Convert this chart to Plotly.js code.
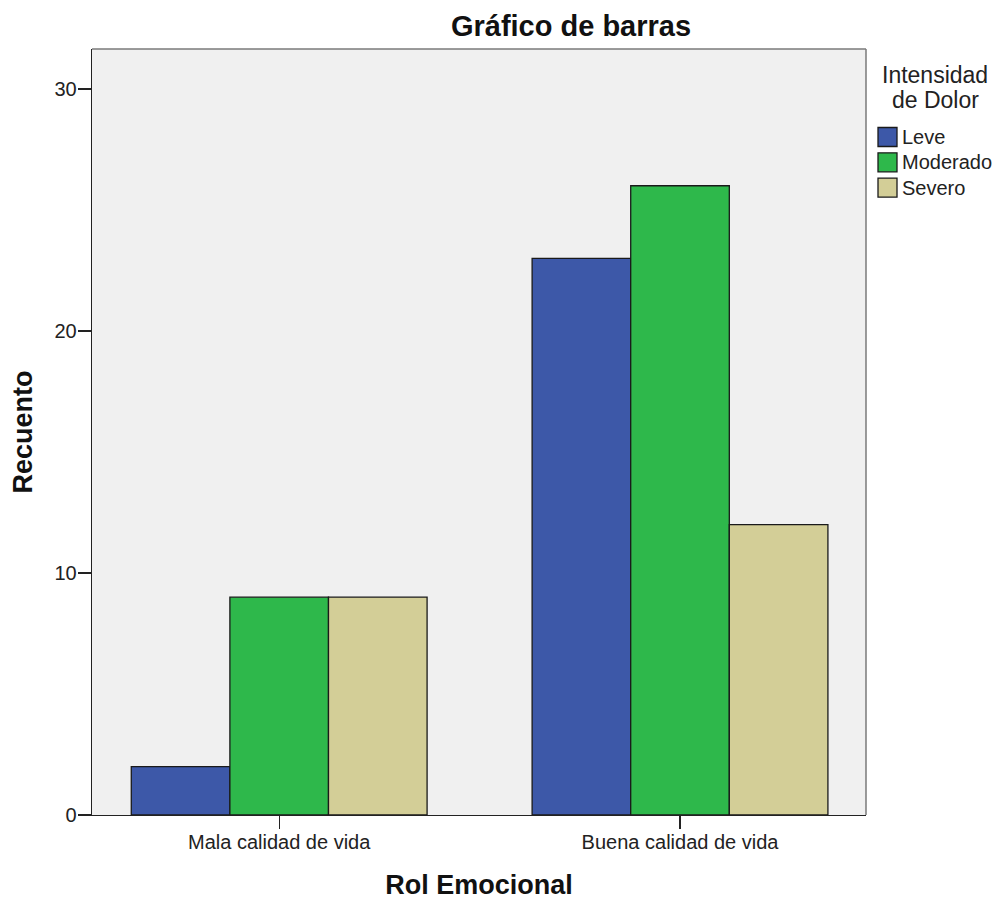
<!DOCTYPE html>
<html>
<head>
<meta charset="utf-8">
<script src="https://cdn.plot.ly/plotly-3.0.1.min.js"></script>
<style>html,body{margin:0;padding:0;background:#fff;}#chart{width:997px;height:901px;}</style>
</head>
<body>
<div id="chart"></div>
<script>
// ---- data ----
const categories = ['Mala calidad de vida', 'Buena calidad de vida'];
const seriesNames = ['Leve', 'Moderado', 'Severo'];
const leve = [2, 23];
const moderado = [9, 26];
const severo = [9, 12];
const yTicks = [0, 10, 20, 30];
const chartTitle = 'Gráfico de barras';
const xTitle = 'Rol Emocional';
const yTitle = 'Recuento';
const legendTitle = ['Intensidad', 'de Dolor'];

// ---- style ----
const colors = ['#3D58A8', '#2EB84B', '#D3CE97'];
const FONT = 'Liberation Sans, Arial, sans-serif';
const W = 997, H = 901;
const M = {l: 92, r: 131, t: 49, b: 86};
const PW = W - M.l - M.r, PH = H - M.t - M.b;
const px2x = p => (p - M.l) / PW;
const py2y = p => (H - M.b - p) / PH;

const values = [leve, moderado, severo];
const traces = seriesNames.map((n, i) => ({
  type: 'bar', name: n, x: categories, y: values[i],
  marker: {color: colors[i], line: {color: '#1a1a1a', width: 1.3}},
  showlegend: false, hoverinfo: 'x+y+name'
}));

// custom legend (larger swatches as in the reference)
const shapes = [
  {type: 'line', xref: 'paper', yref: 'paper', x0: 0, x1: 1, y0: 1, y1: 1, line: {color: '#7a7a7a', width: 1.5}},
  {type: 'line', xref: 'paper', yref: 'paper', x0: 1, x1: 1, y0: 0, y1: 1, line: {color: '#7a7a7a', width: 1.5}}
];
const annotations = [
  {xref: 'paper', yref: 'paper', x: px2x(935), y: py2y(75), text: legendTitle[0], showarrow: false, xanchor: 'center', yanchor: 'middle', font: {family: FONT, size: 23, color: '#222'}},
  {xref: 'paper', yref: 'paper', x: px2x(935), y: py2y(100), text: legendTitle[1], showarrow: false, xanchor: 'center', yanchor: 'middle', font: {family: FONT, size: 23, color: '#222'}}
];
seriesNames.forEach((n, i) => {
  const cy = 137 + i * 25.3;
  shapes.push({type: 'rect', xref: 'paper', yref: 'paper', x0: px2x(878), x1: px2x(897), y0: py2y(cy - 9.5), y1: py2y(cy + 9.5),
    fillcolor: colors[i], line: {color: '#1a1a1a', width: 1.3}});
  annotations.push({xref: 'paper', yref: 'paper', x: px2x(900), y: py2y(cy), text: n, showarrow: false, xanchor: 'left', yanchor: 'middle',
    font: {family: FONT, size: 20, color: '#222'}});
});

const layout = {
  width: W, height: H,
  margin: M,
  paper_bgcolor: '#ffffff', plot_bgcolor: '#F0F0F0',
  font: {family: FONT, color: '#222'},
  barmode: 'group', bargap: 0.262, bargroupgap: 0,
  title: {text: chartTitle, xref: 'container', yref: 'container', x: 571 / W, y: 1 - 26 / H, xanchor: 'center', yanchor: 'middle',
    font: {family: FONT, size: 29, weight: 'bold', color: '#111'}},
  xaxis: {
    type: 'category', range: [-0.467, 1.464], automargin: false,
    showline: true, linecolor: '#222', linewidth: 1.3, mirror: false,
    ticks: 'outside', ticklen: 13, tickwidth: 1.3, tickcolor: '#222',
    showgrid: false, zeroline: false, ticklabelstandoff: -4,
    tickfont: {family: FONT, size: 20, color: '#222'},
    title: {text: xTitle, standoff: 22, font: {family: FONT, size: 27, weight: 'bold', color: '#111'}}
  },
  yaxis: {
    range: [0, 31.65], automargin: false,
    tickvals: yTicks, ticktext: yTicks.map(String),
    showline: true, linecolor: '#222', linewidth: 1.3, mirror: false,
    ticks: 'outside', ticklen: 13, tickwidth: 1.3, tickcolor: '#222',
    showgrid: false, zeroline: false, ticklabelstandoff: -3,
    tickfont: {family: FONT, size: 20, color: '#222'},
    title: {text: yTitle, standoff: 14, font: {family: FONT, size: 27, weight: 'bold', color: '#111'}}
  },
  shapes: shapes,
  annotations: annotations,
  showlegend: false
};

Plotly.newPlot('chart', traces, layout, {staticPlot: true, displayModeBar: false});
</script>
</body>
</html>
